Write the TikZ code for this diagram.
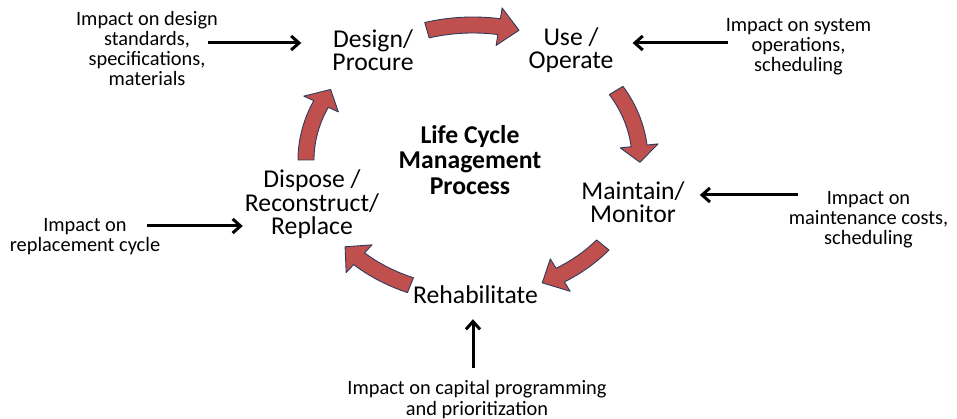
\documentclass[tikz,border=0pt]{standalone}
\usepackage{fontspec}
\setmainfont{Carlito}
\usetikzlibrary{arrows.meta}

\definecolor{cyclered}{HTML}{C0504D}
\definecolor{cycleedge}{HTML}{2B3A5C}

\begin{document}
\begin{tikzpicture}[
  stage/.style={align=center, font=\fontsize{14.6}{13.3}\selectfont},
  impact/.style={align=center, font=\fontsize{11.6}{11.5}\selectfont},
  push/.style={-{Straight Barb[length=4.5pt,width=8pt]}, line width=1.7pt},
  cyclearrow/.style={fill=cyclered, draw=cycleedge, line width=0.5pt, line join=round}
]
\useasboundingbox (0,0) rectangle (19.14,8.38);

% red arrows round the cycle
\begin{scope}[shift={(9.46,5.18)}]
\foreach \ta/\tb in {106/74, 31/-1, -39/-65.5, -112/-140, 180/148.5}{
  \pgfmathsetmacro\tc{\tb+7}
  \draw[cyclearrow] (\ta:3.50 and 2.86) arc[start angle=\ta, end angle=\tc, x radius=3.50, y radius=2.86]
    -- (\tc:3.72 and 3.08) -- (\tb:3.34 and 2.70) -- (\tc:2.96 and 2.32)
    -- (\tc:3.18 and 2.54) arc[start angle=\tc, end angle=\ta, x radius=3.18, y radius=2.54] -- cycle;
}
\end{scope}

\node[stage] (design) at (7.46, 7.38) {Design/\\Procure};
\node[stage] (use) at (11.42, 7.38) {Use /\\Operate};
\node[stage] (maintain) at (12.66, 4.34) {Maintain/\\Monitor};
\node[stage] (rehab) at (9.51, 2.48) {Rehabilitate};
\node[stage] (dispose) at (6.24, 4.29) {Dispose /\\Reconstruct/\\Replace};
\node[stage, font=\bfseries\fontsize{14.6}{14.5}\selectfont] (title) at (9.40, 5.18) {Life Cycle\\Management\\Process};

\node[impact] (impDesign) at (2.94, 7.41) {Impact on design\\standards,\\specifications,\\materials};
\node[impact] (impUse) at (15.97, 7.44) {Impact on system\\operations,\\scheduling};
\node[impact] (impMaint) at (17.37, 3.98) {Impact on\\maintenance costs,\\scheduling};
\node[impact] (impDispose) at (1.70, 3.64) {Impact on\\replacement cycle};
\node[impact] (impRehab) at (9.54, 0.39) {Impact on capital programming\\and prioritization};

\coordinate (fromDesign) at (4.16, 7.52);
\coordinate (fromUse) at (14.56, 7.52);
\coordinate (fromMaint) at (15.96, 4.48);
\coordinate (fromDispose) at (2.94, 3.86);
\coordinate (fromRehab) at (9.46, 1.02);

\draw[push, shorten >=0.5cm] (fromDesign) -- (fromDesign -| design.west);
\draw[push, shorten >=0.26cm] (fromUse) -- (fromUse -| use.east);
\draw[push, shorten >=0.18cm] (fromMaint) -- (fromMaint -| maintain.east);
\draw[push, shorten >=-0.08cm] (fromDispose) -- (fromDispose -| dispose.west);
\draw[push, shorten >=0.18cm] (fromRehab) -- (fromRehab |- rehab.south);
\end{tikzpicture}
\end{document}
